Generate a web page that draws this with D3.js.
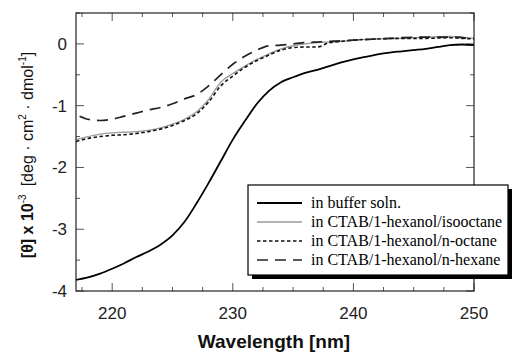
<!DOCTYPE html>
<html><head><meta charset="utf-8">
<script src="https://cdn.jsdelivr.net/npm/d3@7"></script>
<style>body{margin:0;background:#fff}svg{display:block}</style>
</head><body>
<svg id="c" width="512" height="353"></svg>
<script>
const wlBuffer = [217,218,219,220,221,222,223,224,225,226,227,228,229,230,231,232,233,234,235,236,237,238,239,240,241,242,243,244,245,246,247,248,249,250];
const buffer   = [-3.82,-3.78,-3.72,-3.64,-3.55,-3.45,-3.36,-3.25,-3.10,-2.88,-2.58,-2.25,-1.90,-1.55,-1.25,-0.97,-0.76,-0.62,-0.54,-0.47,-0.42,-0.36,-0.30,-0.25,-0.21,-0.17,-0.14,-0.12,-0.10,-0.08,-0.05,-0.02,-0.01,-0.02];
const wlIso = [217,218,219,220,221,222,223,224,225,226,227,228,229,230,231,232,233,234,235,236,237,238,239,240,242,244,246,248,249,250];
const isooctane = [-1.55,-1.50,-1.46,-1.44,-1.43,-1.42,-1.40,-1.36,-1.30,-1.22,-1.10,-0.90,-0.62,-0.48,-0.36,-0.25,-0.16,-0.08,-0.03,0.00,0.02,0.03,0.04,0.06,0.08,0.09,0.11,0.12,0.11,0.09];
const wlOct = [217,218,219,220,221,222,223,224,225,226,227,228,229,230,231,232,233,234,235,236,237,238,239,240,242,244,246,248,249,250];
const octane = [-1.58,-1.53,-1.50,-1.48,-1.47,-1.45,-1.42,-1.38,-1.32,-1.24,-1.13,-0.94,-0.68,-0.52,-0.38,-0.27,-0.18,-0.10,-0.06,-0.05,-0.05,0.02,0.04,0.06,0.08,0.09,0.09,0.10,0.09,0.08];
const wlHex = [217.3,218,219,220,221,222,223,224,225,226,227,228,229,230,231,232,233,234,235,236,237,238,240,242,244,246,248,250];
const hexane = [-1.17,-1.22,-1.24,-1.22,-1.17,-1.12,-1.07,-1.03,-0.97,-0.89,-0.82,-0.68,-0.50,-0.33,-0.20,-0.10,-0.03,-0.02,0.00,0.02,0.03,0.04,0.06,0.08,0.10,0.11,0.11,0.08];
const legendLabels = ["in buffer soln.","in CTAB/1-hexanol/isooctane","in CTAB/1-hexanol/n-octane","in CTAB/1-hexanol/n-hexane"];
const xTicks = [220,230,240,250];
const yTicks = [-4,-3,-2,-1,0];

const svg = d3.select("#c");
const L=76,R=474,T=13,B=291;
const x = d3.scaleLinear().domain([217,250]).range([L,R]);
const y = d3.scaleLinear().domain([-4,0.5]).range([B,T]);

const styles = [
  {stroke:"#000", w:1.8, dash:null},
  {stroke:"#9a9a9a", w:1.3, dash:null},
  {stroke:"#111", w:1.6, dash:"3.5,2.5"},
  {stroke:"#222", w:1.7, dash:"11,7"}
];
const series = [[wlBuffer,buffer],[wlIso,isooctane],[wlOct,octane],[wlHex,hexane]];

// ticks
const minorX = d3.range(217.5,250.01,2.5);
const minorY = d3.range(-4,0.51,0.5);
const tk = svg.append("g").attr("stroke","#555").attr("stroke-width",1);
minorX.forEach(v=>{
  const major = xTicks.includes(v);
  const len = major?8:4;
  tk.append("line").attr("x1",x(v)).attr("x2",x(v)).attr("y1",B).attr("y2",B-len);
  tk.append("line").attr("x1",x(v)).attr("x2",x(v)).attr("y1",T).attr("y2",T+len);
});
minorY.forEach(v=>{
  const major = yTicks.includes(v);
  const len = major?8:4;
  tk.append("line").attr("y1",y(v)).attr("y2",y(v)).attr("x1",L).attr("x2",L+len);
  tk.append("line").attr("y1",y(v)).attr("y2",y(v)).attr("x1",R).attr("x2",R-len);
});

// lines
const line = d3.line().curve(d3.curveMonotoneX);
series.forEach((s,i)=>{
  const pts = s[0].map((w,j)=>[x(w),y(s[1][j])]);
  const p = svg.append("path").attr("d",line(pts)).attr("fill","none")
    .attr("stroke",styles[i].stroke).attr("stroke-width",styles[i].w);
  if(styles[i].dash) p.attr("stroke-dasharray",styles[i].dash);
});

// frame
svg.append("rect").attr("x",L).attr("y",T).attr("width",R-L).attr("height",B-T)
  .attr("fill","none").attr("stroke","#222").attr("stroke-width",1.2);

// tick labels
const fnt = "'Liberation Sans', Arial, sans-serif";
xTicks.forEach(v=>{
  svg.append("text").attr("x",x(v)).attr("y",319).attr("text-anchor","middle")
    .attr("font-family",fnt).attr("font-size",17).attr("fill","#222").text(v);
});
yTicks.forEach(v=>{
  svg.append("text").attr("x",67).attr("y",y(v)+6).attr("text-anchor","end")
    .attr("font-family",fnt).attr("font-size",17).attr("fill","#222").text(v);
});

// axis titles
svg.append("text").attr("x",274).attr("y",348).attr("text-anchor","middle")
  .attr("font-family",fnt).attr("font-size",19).attr("font-weight","bold").attr("fill","#111")
  .text("Wavelength [nm]");

const yl = svg.append("text").attr("transform","translate(33,155) rotate(-90)")
  .attr("text-anchor","middle").attr("font-family",fnt).attr("font-size",16).attr("fill","#111");
yl.append("tspan").attr("font-weight","bold").text("[θ] x 10");
yl.append("tspan").attr("font-size",10).attr("dy",-7).text("-3");
yl.append("tspan").attr("dy",7).attr("dx",8).text("[deg · cm");
yl.append("tspan").attr("font-size",10).attr("dy",-7).text("2");
yl.append("tspan").attr("dy",7).text(" · dmol");
yl.append("tspan").attr("font-size",10).attr("dy",-7).text("-1");
yl.append("tspan").attr("dy",7).text("]");

// legend
const lx=248, ly=185, lw=260, lh=90;
svg.append("rect").attr("x",lx+4).attr("y",ly+4).attr("width",lw).attr("height",lh).attr("fill","#000");
svg.append("rect").attr("x",lx).attr("y",ly).attr("width",lw).attr("height",lh).attr("fill","#fff")
  .attr("stroke","#000").attr("stroke-width",1.2);
const rows=[203,222,241,260];
legendLabels.forEach((lab,i)=>{
  const l = svg.append("line").attr("x1",257).attr("x2",302).attr("y1",rows[i]).attr("y2",rows[i])
    .attr("stroke",styles[i].stroke).attr("stroke-width",styles[i].w);
  if(styles[i].dash) l.attr("stroke-dasharray",styles[i].dash);
  svg.append("text").attr("x",311).attr("y",rows[i]+5).attr("font-family","'Liberation Serif','Times New Roman',serif")
    .attr("font-size",16).attr("fill","#000").text(lab);
});
</script>
</body></html>
